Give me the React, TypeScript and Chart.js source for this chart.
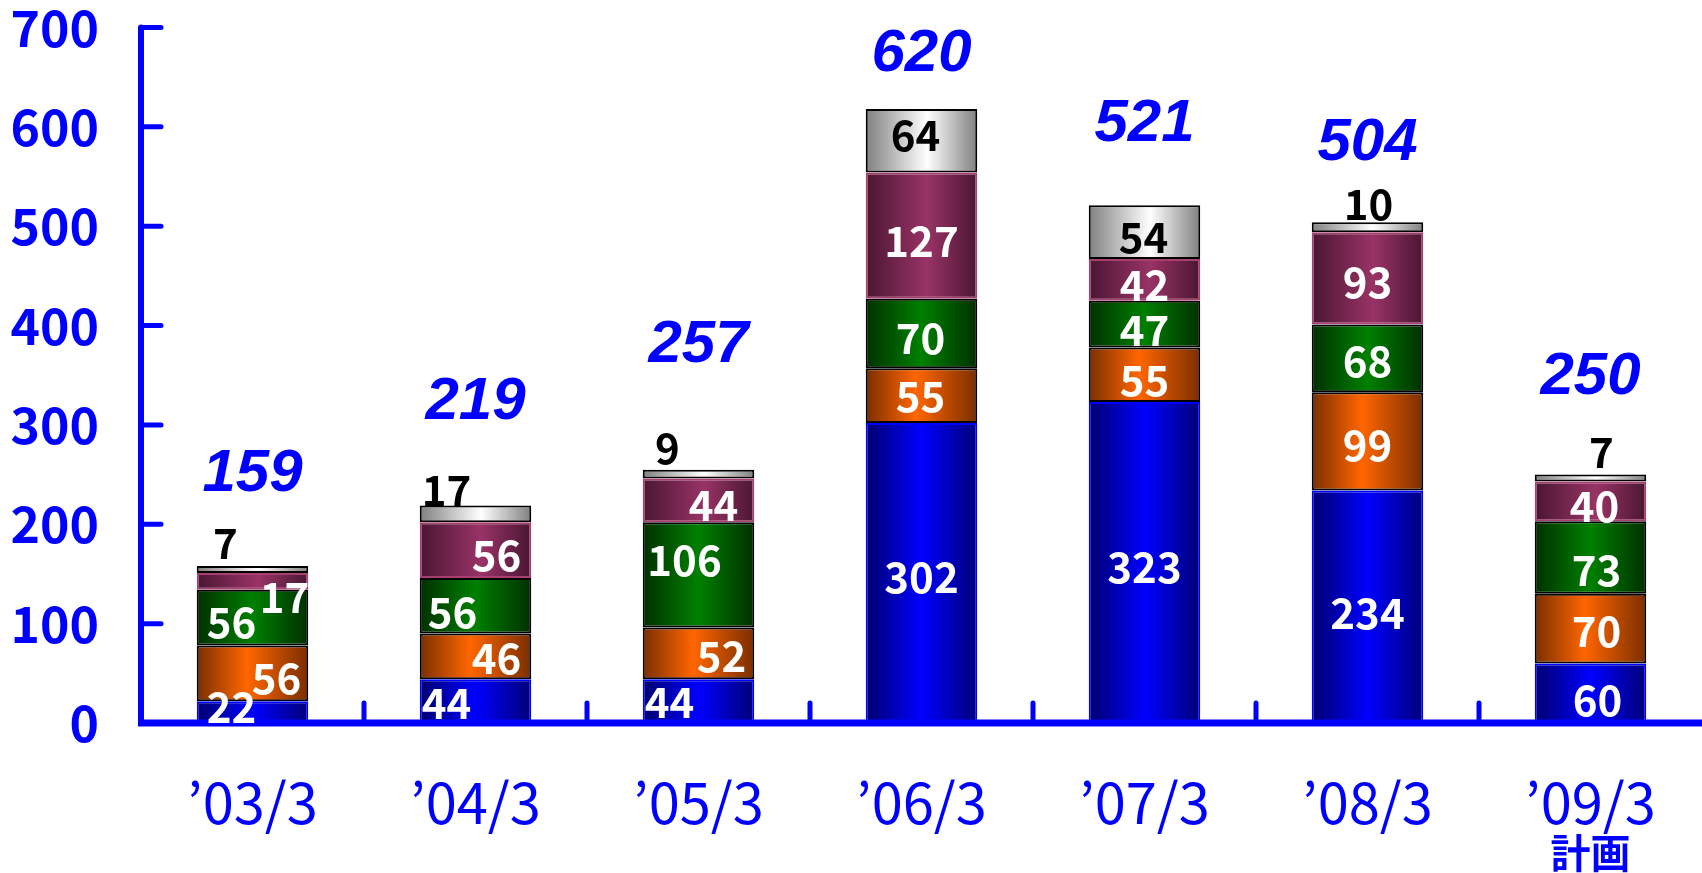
import React, { useEffect, useRef } from "react";
import { Chart, registerables } from "chart.js";

Chart.register(...registerables);

// ---- data ----
const categories = ["’03/3", "’04/3", "’05/3", "’06/3", "’07/3", "’08/3", "’09/3"];
const subLabels = ["", "", "", "", "", "", "計画"];
const seriesBlue = [22, 44, 44, 302, 323, 234, 60];
const seriesOrange = [56, 46, 52, 55, 55, 99, 70];
const seriesGreen = [56, 56, 106, 70, 47, 68, 73];
const seriesPurple = [17, 56, 44, 127, 42, 93, 40];
const seriesGray = [7, 17, 9, 64, 54, 10, 7];
const totals = [159, 219, 257, 620, 521, 504, 250];
const yTickValues = [0, 100, 200, 300, 400, 500, 600, 700];

// ---- label placement (style, px offsets from segment centre) ----
const labelDx = [
  [-21, -29, -29, 0, 0, 0, 7],
  [24, 21, 23, -1, 0, 0, 6],
  [-21, -23, -14, -1, 0, 0, 6],
  [32, 21, 15, 0, 0, 0, 4],
  [-27, -29, -31, -6, -1, 1, 11],
];
const labelDy = [
  [-5, 2, 1, 4, 5, 6, 7],
  [5, 2, 3, 0, 5, 4, 2],
  [4, 6, -15, 5, 6, 3, 12],
  [16, 5, 5, 5, 5, 4, 5],
  [-26, -24, -26, -6, 5, -23, -26],
];
const labelColors = ["#FFFFFF", "#FFFFFF", "#FFFFFF", "#FFFFFF", "#000000"];
// total labels: lift above stack top, in value units
const totalLift = [92, 104, 125, 55, 81, 79, 98];

const BLUE = "#0000FF";
const JP = '"Noto Sans CJK JP", "Liberation Sans", sans-serif';

type Stop = [number, string];
const gradBlue: Stop[] = [[0, "#00006E"], [0.5, "#0000FF"], [1, "#000078"]];
const gradOrange: Stop[] = [[0, "#7A2E00"], [0.45, "#FF6600"], [1, "#7A2E00"]];
const gradGreen: Stop[] = [[0, "#003000"], [0.5, "#008000"], [1, "#003000"]];
const gradPurple: Stop[] = [[0, "#4A1632"], [0.55, "#993366"], [1, "#4A1632"]];
const gradGray: Stop[] = [[0, "#808080"], [0.55, "#FFFFFF"], [1, "#808080"]];

const BAR_FRACTION = 0.5;

function gradient(stops: Stop[]) {
  return (c: any) => {
    const chart = c.chart;
    const area = chart.chartArea;
    const xs = chart.scales && chart.scales.x;
    if (!area || !xs) return stops[1][1];
    const cx = xs.getPixelForValue(c.dataIndex);
    const w = ((area.right - area.left) / categories.length) * BAR_FRACTION;
    const g = chart.ctx.createLinearGradient(cx - w / 2, 0, cx + w / 2, 0);
    stops.forEach(([o, col]) => g.addColorStop(o, col));
    return g;
  };
}

const overlayPlugin = {
  id: "overlay",
  afterDatasetsDraw(chart: any) {
    const ctx = chart.ctx;
    const { left } = chart.chartArea;
    const xs = chart.scales.x;
    const ys = chart.scales.y;
    const y0 = ys.getPixelForValue(0);
    const yTop = ys.getPixelForValue(yTickValues[yTickValues.length - 1]);
    ctx.save();
    ctx.strokeStyle = BLUE;
    // y axis
    ctx.lineCap = "round";
    ctx.lineWidth = 6;
    ctx.beginPath();
    ctx.moveTo(left, yTop);
    ctx.lineTo(left, y0);
    ctx.stroke();
    ctx.lineWidth = 5;
    yTickValues.forEach((v) => {
      if (v === 0) return;
      const py = ys.getPixelForValue(v);
      ctx.beginPath();
      ctx.moveTo(left, py);
      ctx.lineTo(left + 20, py);
      ctx.stroke();
    });
    // x ticks between categories
    for (let i = 1; i < categories.length; i++) {
      const px = (xs.getPixelForValue(i - 1) + xs.getPixelForValue(i)) / 2;
      ctx.beginPath();
      ctx.moveTo(px, y0);
      ctx.lineTo(px, y0 - 20);
      ctx.stroke();
    }
    // x axis
    ctx.lineCap = "butt";
    ctx.lineWidth = 7;
    ctx.beginPath();
    ctx.moveTo(left - 3, y0);
    ctx.lineTo(chart.width, y0);
    ctx.stroke();

    // segment labels
    ctx.textAlign = "center";
    ctx.textBaseline = "middle";
    ctx.font = "bold 42px " + JP;
    chart.data.datasets.forEach((ds: any, di: number) => {
      const meta = chart.getDatasetMeta(di);
      meta.data.forEach((el: any, j: number) => {
        const cy = (el.y + el.base) / 2;
        ctx.fillStyle = labelColors[di];
        ctx.fillText(String(ds.data[j]), el.x + labelDx[di][j], cy + labelDy[di][j]);
      });
    });

    // totals
    ctx.font = 'italic bold 60px "Liberation Sans", Arial, sans-serif';
    ctx.fillStyle = BLUE;
    totals.forEach((t, j) => {
      let sum = 0;
      chart.data.datasets.forEach((ds: any) => (sum += ds.data[j]));
      const py = ys.getPixelForValue(sum + totalLift[j]);
      ctx.fillText(String(t), xs.getPixelForValue(j), py);
    });

    // sub labels under categories
    ctx.font = "bold 40px " + JP;
    subLabels.forEach((s, j) => {
      if (!s) return;
      ctx.fillText(s, xs.getPixelForValue(j), y0 + 130);
    });
    ctx.restore();
  },
};

export default function App() {
  const ref = useRef<HTMLCanvasElement>(null);
  useEffect(() => {
    document.body.style.margin = "0";
    const mk = (label: string, data: number[], stops: Stop[], border: string) => ({
      label,
      data,
      backgroundColor: gradient(stops),
      borderColor: border,
      borderWidth: 2,
      borderSkipped: false,
      barPercentage: BAR_FRACTION,
      categoryPercentage: 1,
    });
    const chart = new Chart(ref.current!, {
      type: "bar",
      data: {
        labels: categories,
        datasets: [
          mk("A", seriesBlue, gradBlue, "#0000FF"),
          mk("B", seriesOrange, gradOrange, "#000000"),
          mk("C", seriesGreen, gradGreen, "#000000"),
          mk("D", seriesPurple, gradPurple, "#A8406F"),
          mk("E", seriesGray, gradGray, "#000000"),
        ] as any,
      },
      options: {
        responsive: false,
        animation: false,
        devicePixelRatio: 1,
        layout: { padding: 0 },
        plugins: { legend: { display: false }, tooltip: { enabled: false } },
        scales: {
          x: {
            stacked: true,
            grid: { display: false, drawTicks: true, tickLength: 46 },
            border: { display: false },
            ticks: {
              color: BLUE,
              padding: 0,
              font: { family: JP, size: 56, weight: "normal" },
            },
            afterFit: (s: any) => {
              s.height = 150;
            },
          },
          y: {
            stacked: true,
            min: 0,
            max: 700,
            grid: { display: false, drawTicks: true, tickLength: 42 },
            border: { display: false },
            ticks: {
              stepSize: 100,
              color: BLUE,
              padding: 0,
              font: { family: JP, size: 50, weight: "bold", lineHeight: 1.1 },
            },
            afterFit: (s: any) => {
              s.width = 141;
            },
          },
        },
      },
      plugins: [overlayPlugin],
    });
    return () => chart.destroy();
  }, []);
  return (
    <div style={{ width: 1702, height: 873 }}>
      <canvas ref={ref} width={1702} height={873} style={{ display: "block" }} />
    </div>
  );
}
